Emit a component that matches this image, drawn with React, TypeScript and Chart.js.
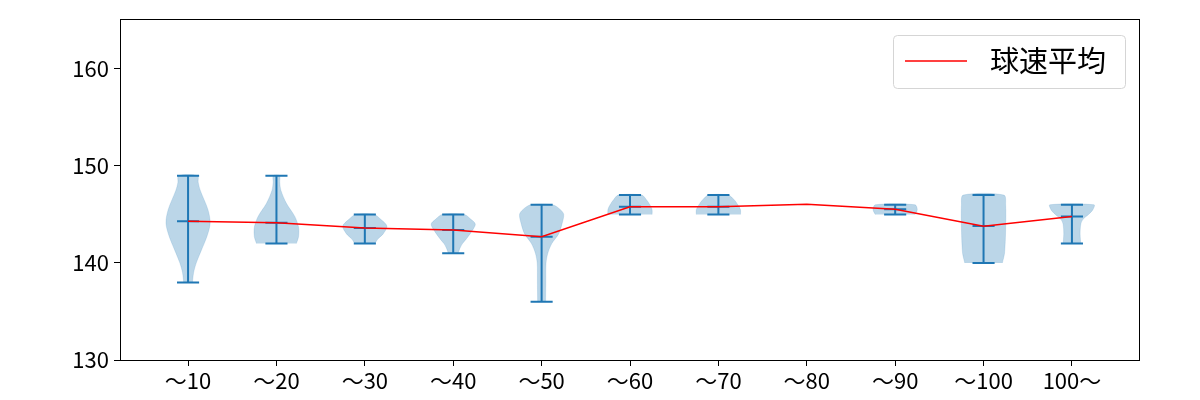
import React, { useEffect, useRef } from 'react';
import { Chart, registerables } from 'chart.js';
Chart.register(...registerables);

const categories = ['〜10', '〜20', '〜30', '〜40', '〜50', '〜60', '〜70', '〜80', '〜90', '〜100', '100〜'];
const meanSpeeds = [144.3, 144.15, 143.6, 143.4, 142.7, 145.8, 145.8, 146.05, 145.55, 143.8, 144.8];
const minSpeeds = [138, 142, 142, 141, 136, 145, 145, null, 145, 140, 142];
const maxSpeeds = [149, 149, 145, 145, 146, 147, 147, null, 146, 147, 146];
const violinLevels: number[][] = [
  [138, 139, 140, 141.3, 142.7, 144.1, 145.5, 147.5, 148.3, 149],
  [142, 142.7, 143.7, 144.8, 146.15, 147.5, 148.3, 149],
  [142, 142.5, 143, 143.8, 144.5, 145],
  [141, 141.5, 142, 142.5, 143.3, 144, 144.5, 145],
  [136, 138, 140, 141, 142, 143, 144, 145, 145.5, 146],
  [145, 145.5, 146, 146.5, 147],
  [145, 145.5, 146, 146.5, 147],
  [],
  [145, 145.5, 146],
  [140, 141, 143.5, 146, 147],
  [142, 143, 144, 144.5, 145, 145.5, 146],
];
const violinWidths: number[][] = [
  [0.2, 0.25, 0.37, 0.6, 0.85, 1.0, 0.9, 0.55, 0.46, 0.43],
  [0.9, 1.0, 1.0, 0.83, 0.45, 0.2, 0.15, 0.14],
  [0.45, 0.6, 0.83, 1.0, 0.72, 0.42],
  [0.22, 0.3, 0.42, 0.6, 0.85, 1.0, 0.8, 0.5],
  [0.18, 0.19, 0.2, 0.28, 0.46, 0.77, 0.92, 1.0, 0.85, 0.5],
  [1.0, 1.0, 0.9, 0.75, 0.53],
  [1.0, 1.0, 0.88, 0.72, 0.45],
  [],
  [0.9, 1.0, 0.9],
  [0.85, 0.95, 1.0, 1.0, 0.92],
  [0.4, 0.37, 0.4, 0.5, 0.75, 0.95, 1.0],
];
const yTicks = [130, 140, 150, 160];
const legendLabel = '球速平均';

const BLUE = '#1f77b4';
const FONT = "'Noto Sans CJK JP', 'Noto Sans', sans-serif";
const HALF = 0.25;
const CAP = 0.125;

export default function App() {
  const ref = useRef<HTMLCanvasElement>(null);
  useEffect(() => {
    const datasets: any[] = [];
    categories.forEach((_, i) => {
      const pos = i + 1;
      const lv = violinLevels[i];
      const wd = violinWidths[i];
      if (!lv.length) return;
      const right = lv.map((y, k) => ({ x: pos + HALF * wd[k], y }));
      const left = lv.map((y, k) => ({ x: pos - HALF * wd[k], y })).reverse();
      datasets.push({
        type: 'line', data: [...right, ...left], fill: 'shape',
        backgroundColor: 'rgba(31,119,180,0.3)', borderColor: 'rgba(31,119,180,0.15)',
        borderWidth: 1, pointRadius: 0, tension: 0.3, order: 3,
      });
      const mn = minSpeeds[i] as number, mx = maxSpeeds[i] as number, m = meanSpeeds[i];
      datasets.push({
        type: 'line',
        data: [
          { x: pos - CAP, y: mx }, { x: pos + CAP, y: mx }, { x: pos, y: null },
          { x: pos, y: mx }, { x: pos, y: mn }, { x: pos, y: null },
          { x: pos - CAP, y: mn }, { x: pos + CAP, y: mn }, { x: pos, y: null },
          { x: pos - CAP, y: m }, { x: pos + CAP, y: m },
        ],
        borderColor: BLUE, borderWidth: 2, pointRadius: 0, fill: false, spanGaps: false,
        tension: 0, order: 2,
      });
    });
    datasets.push({
      type: 'line', label: legendLabel,
      data: meanSpeeds.map((y, i) => ({ x: i + 1, y })),
      borderColor: '#ff0000', borderWidth: 1.5, pointRadius: 0, fill: false, tension: 0, order: 0,
    });

    const frame = {
      id: 'frame',
      afterDraw(chart: any) {
        const { ctx, chartArea: a } = chart;
        ctx.save();
        ctx.strokeStyle = '#000';
        ctx.lineWidth = 1;
        ctx.strokeRect(Math.round(a.left) + 0.5, Math.round(a.top) + 0.5, Math.round(a.right - a.left) - 1, Math.round(a.bottom - a.top));
        // legend
        const bx = 893.5, by = 35.5, bw = 232, bh = 53, r = 4;
        ctx.beginPath();
        ctx.moveTo(bx + r, by);
        ctx.arcTo(bx + bw, by, bx + bw, by + bh, r);
        ctx.arcTo(bx + bw, by + bh, bx, by + bh, r);
        ctx.arcTo(bx, by + bh, bx, by, r);
        ctx.arcTo(bx, by, bx + bw, by, r);
        ctx.closePath();
        ctx.fillStyle = 'rgba(255,255,255,0.8)';
        ctx.fill();
        ctx.strokeStyle = '#d5d5d5';
        ctx.stroke();
        ctx.beginPath();
        ctx.moveTo(905, 61);
        ctx.lineTo(967, 61);
        ctx.strokeStyle = '#ff0000';
        ctx.lineWidth = 1.5;
        ctx.stroke();
        ctx.fillStyle = '#000';
        ctx.font = `29px ${FONT}`;
        ctx.textBaseline = 'middle';
        ctx.textAlign = 'left';
        ctx.fillText(legendLabel, 990, 61);
        ctx.restore();
      },
    };

    const chart = new Chart(ref.current as HTMLCanvasElement, {
      type: 'line',
      data: { datasets },
      options: {
        animation: false,
        responsive: false,
        maintainAspectRatio: false,
        layout: { padding: { left: 0, right: 60, top: 19, bottom: 0 } },
        plugins: { legend: { display: false }, tooltip: { enabled: false } },
        scales: {
          x: {
            type: 'linear', min: 0.23, max: 11.77,
            afterBuildTicks: (s: any) => { s.ticks = categories.map((_, i) => ({ value: i + 1 })); },
            afterFit: (s: any) => { s.height = 40; },
            ticks: {
              autoSkip: false, maxRotation: 0, color: '#000', padding: 1,
              font: { size: 22, family: FONT },
              callback: (v: any) => categories[Math.round(v) - 1] ?? '',
            },
            grid: { display: true, drawOnChartArea: false, drawTicks: true, tickLength: 6, color: '#000', lineWidth: 1 },
            border: { display: false },
          },
          y: {
            type: 'linear', min: 130, max: 165.15,
            afterBuildTicks: (s: any) => { s.ticks = yTicks.map((v) => ({ value: v })); },
            afterFit: (s: any) => { s.width = 120; },
            ticks: { color: '#000', padding: 5, font: { size: 22, family: FONT } },
            grid: { display: true, drawOnChartArea: false, drawTicks: true, tickLength: 6, color: '#000', lineWidth: 1 },
            border: { display: false },
          },
        },
      },
      plugins: [frame],
    } as any);
    return () => chart.destroy();
  }, []);
  return (
    <div style={{ position: 'fixed', left: 0, top: 0, width: 1200, height: 400, background: '#fff' }}>
      <canvas ref={ref} width={1200} height={400} style={{ width: 1200, height: 400 }} />
    </div>
  );
}
